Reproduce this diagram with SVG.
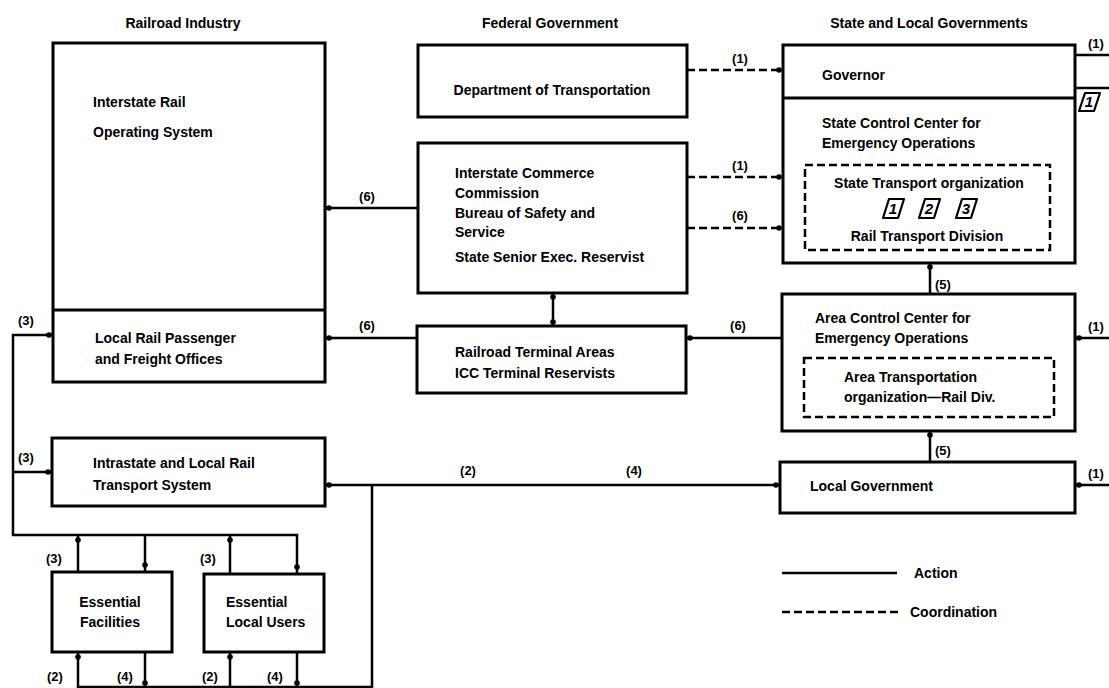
<svg xmlns="http://www.w3.org/2000/svg" width="1109" height="688" viewBox="0 0 1109 688">
<style>
text{font-family:"Liberation Sans",Arial,sans-serif;font-weight:bold;font-size:14px;fill:#000}
.t{font-size:14px}
.box{fill:none;stroke:#000;stroke-width:3}
.dbox{fill:none;stroke:#000;stroke-width:2.5;stroke-dasharray:8 4}
.ln{fill:none;stroke:#000;stroke-width:2.5}
.dl{fill:none;stroke:#000;stroke-width:2.5;stroke-dasharray:8 4}
.dot{fill:#000}
.ic{fill:none;stroke:#000;stroke-width:2.2;stroke-linejoin:round}
.icn{font-style:italic;font-size:15px}
.lbl{font-size:13px}
</style>
<rect width="1109" height="688" fill="#fff"/>
<g id="titles">
<text x="183" y="28" text-anchor="middle">Railroad Industry</text>
<text x="550" y="28" text-anchor="middle">Federal Government</text>
<text x="929" y="28" text-anchor="middle">State and Local Governments</text>
</g>
<g id="railroad-industry">
<rect class="box" x="53" y="43" width="272" height="339"/>
<line class="box" x1="53" y1="310" x2="325" y2="310"/>
<text x="93" y="107">Interstate Rail</text>
<text x="93" y="137">Operating System</text>
</g>
<g id="local-rail-offices">
<text x="95" y="343">Local Rail Passenger</text>
<text x="95" y="364">and Freight Offices</text>
</g>
<g id="dot">
<rect class="box" x="418" y="45" width="269" height="72"/>
<text x="552" y="95" text-anchor="middle">Department of Transportation</text>
</g>
<g id="icc">
<rect class="box" x="418" y="143" width="269" height="150"/>
<text x="455" y="178">Interstate Commerce</text>
<text x="455" y="198">Commission</text>
<text x="455" y="218">Bureau of Safety and</text>
<text x="455" y="237">Service</text>
<text x="455" y="262">State Senior Exec. Reservist</text>
</g>
<g id="terminal">
<rect class="box" x="417" y="326" width="269" height="67"/>
<text x="455" y="357">Railroad Terminal Areas</text>
<text x="455" y="378">ICC Terminal Reservists</text>
</g>
<g id="state">
<rect class="box" x="783" y="45" width="292" height="218"/>
<line class="box" x1="783" y1="98" x2="1075" y2="98"/>
<text x="822" y="80">Governor</text>
<text x="822" y="128">State Control Center for</text>
<text x="822" y="148">Emergency Operations</text>
<rect class="dbox" x="805" y="165" width="245" height="85"/>
<text x="929" y="188" text-anchor="middle">State Transport organization</text>
<polygon class="ic" points="889,199 904,199 898,218 883,218"/>
<text class="icn" x="893" y="214" text-anchor="middle">1</text>
<polygon class="ic" points="925,199 940,199 934,218 919,218"/>
<text class="icn" x="929" y="214" text-anchor="middle">2</text>
<polygon class="ic" points="962,199 977,199 971,218 956,218"/>
<text class="icn" x="966" y="214" text-anchor="middle">3</text>
<text x="927" y="241" text-anchor="middle">Rail Transport Division</text>
</g>
<g id="area">
<rect class="box" x="782" y="294" width="293" height="137"/>
<text x="815" y="323">Area Control Center for</text>
<text x="815" y="343">Emergency Operations</text>
<rect class="dbox" x="804" y="358" width="250" height="59"/>
<text x="844" y="382">Area Transportation</text>
<text x="844" y="402">organization—Rail Div.</text>
</g>
<g id="local-government">
<rect class="box" x="780" y="462" width="295" height="51"/>
<text x="810" y="491">Local Government</text>
</g>
<g id="intrastate">
<rect class="box" x="52" y="438" width="273" height="68"/>
<text x="93" y="468">Intrastate and Local Rail</text>
<text x="93" y="490">Transport System</text>
</g>
<g id="essential-facilities">
<rect class="box" x="52" y="572" width="120" height="80"/>
<text x="110" y="607" text-anchor="middle">Essential</text>
<text x="110" y="627" text-anchor="middle">Facilities</text>
</g>
<g id="essential-local-users">
<rect class="box" x="204" y="574" width="120" height="78"/>
<text x="226" y="607">Essential</text>
<text x="226" y="627">Local Users</text>
</g>
<g id="connectors">
<line class="ln" x1="325" y1="208" x2="418" y2="208"/>
<line class="ln" x1="325" y1="338" x2="417" y2="338"/>
<line class="ln" x1="553" y1="293" x2="553" y2="326"/>
<line class="ln" x1="686" y1="338" x2="782" y2="338"/>
<line class="dl" x1="687" y1="70" x2="783" y2="70"/>
<line class="dl" x1="687" y1="177" x2="783" y2="177"/>
<line class="dl" x1="687" y1="228" x2="783" y2="228"/>
<line class="ln" x1="930" y1="263" x2="930" y2="294"/>
<line class="ln" x1="930" y1="431" x2="930" y2="462"/>
<line class="ln" x1="1075" y1="55" x2="1109" y2="55"/>
<line class="ln" x1="1075" y1="88" x2="1109" y2="88"/>
<line class="ln" x1="1075" y1="338" x2="1109" y2="338"/>
<line class="ln" x1="1075" y1="485" x2="1109" y2="485"/>
<polyline class="ln" points="53,335 13,335 13,535 297,535 297,574"/>
<line class="ln" x1="13" y1="472" x2="52" y2="472"/>
<line class="ln" x1="78" y1="535" x2="78" y2="572"/>
<line class="ln" x1="145" y1="535" x2="145" y2="572"/>
<line class="ln" x1="230" y1="535" x2="230" y2="574"/>
<line class="ln" x1="325" y1="485" x2="780" y2="485"/>
<polyline class="ln" points="78,652 78,687 372,687 372,485"/>
<line class="ln" x1="145" y1="652" x2="145" y2="687"/>
<line class="ln" x1="230" y1="652" x2="230" y2="687"/>
<line class="ln" x1="297" y1="652" x2="297" y2="687"/>
<circle class="dot" cx="329" cy="208" r="2.8"/>
<circle class="dot" cx="329" cy="338" r="2.8"/>
<circle class="dot" cx="553" cy="297" r="2.8"/>
<circle class="dot" cx="553" cy="322" r="2.8"/>
<circle class="dot" cx="690" cy="338" r="2.8"/>
<circle class="dot" cx="779" cy="70" r="2.8"/>
<circle class="dot" cx="779" cy="177" r="2.8"/>
<circle class="dot" cx="779" cy="228" r="2.8"/>
<circle class="dot" cx="930" cy="267" r="2.8"/>
<circle class="dot" cx="930" cy="435" r="2.8"/>
<circle class="dot" cx="1079" cy="338" r="2.8"/>
<circle class="dot" cx="1079" cy="485" r="2.8"/>
<circle class="dot" cx="49" cy="335" r="2.8"/>
<circle class="dot" cx="48" cy="472" r="2.8"/>
<circle class="dot" cx="329" cy="485" r="2.8"/>
<circle class="dot" cx="776" cy="485" r="2.8"/>
<circle class="dot" cx="78" cy="540" r="2.8"/>
<circle class="dot" cx="145" cy="565" r="2.8"/>
<circle class="dot" cx="230" cy="540" r="2.8"/>
<circle class="dot" cx="297" cy="567" r="2.8"/>
<circle class="dot" cx="78" cy="657" r="2.8"/>
<circle class="dot" cx="145" cy="683" r="2.8"/>
<circle class="dot" cx="230" cy="657" r="2.8"/>
<circle class="dot" cx="297" cy="683" r="2.8"/>
</g>
<g id="connector-labels">
<text class="lbl" x="367" y="201" text-anchor="middle">(6)</text>
<text class="lbl" x="367" y="330" text-anchor="middle">(6)</text>
<text class="lbl" x="738" y="330" text-anchor="middle">(6)</text>
<text class="lbl" x="740" y="63" text-anchor="middle">(1)</text>
<text class="lbl" x="740" y="170" text-anchor="middle">(1)</text>
<text class="lbl" x="740" y="220" text-anchor="middle">(6)</text>
<text class="lbl" x="935" y="289">(5)</text>
<text class="lbl" x="935" y="455">(5)</text>
<text class="lbl" x="1088" y="48">(1)</text>
<text class="lbl" x="1088" y="331">(1)</text>
<text class="lbl" x="1088" y="478">(1)</text>
<text class="lbl" x="18" y="325">(3)</text>
<text class="lbl" x="18" y="462">(3)</text>
<text class="lbl" x="468" y="475" text-anchor="middle">(2)</text>
<text class="lbl" x="634" y="475" text-anchor="middle">(4)</text>
<text class="lbl" x="46" y="563">(3)</text>
<text class="lbl" x="200" y="563">(3)</text>
<text class="lbl" x="47" y="681">(2)</text>
<text class="lbl" x="117" y="681">(4)</text>
<text class="lbl" x="202" y="681">(2)</text>
<text class="lbl" x="267" y="681">(4)</text>
<polygon class="ic" points="1085,93 1100,93 1094,111 1079,111"/>
<text class="icn" x="1089" y="107" text-anchor="middle">1</text>
</g>
<g id="legend">
<line class="ln" x1="782" y1="573" x2="897" y2="573"/>
<text x="914" y="578">Action</text>
<line class="dl" x1="782" y1="612" x2="900" y2="612"/>
<text x="910" y="617">Coordination</text>
</g>
</svg>
